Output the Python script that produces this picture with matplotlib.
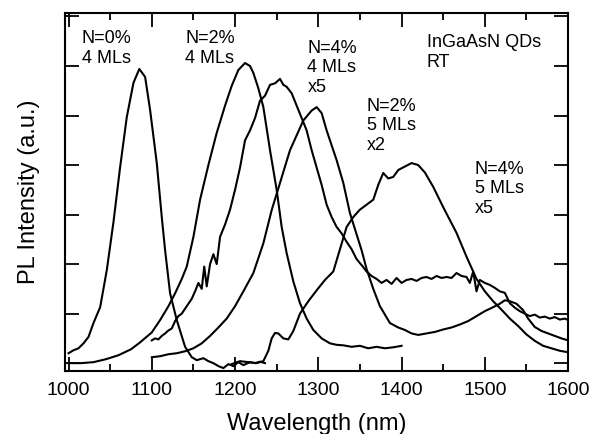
import matplotlib
matplotlib.use("Agg")
import matplotlib.pyplot as plt
from matplotlib.ticker import MultipleLocator

plt.rcParams["font.family"] = ["Liberation Sans", "DejaVu Sans"]

# N=0%, 4 MLs
a_wl = [1000, 1006, 1012, 1018, 1024, 1030, 1038, 1046, 1054, 1062, 1070, 1078, 1085,
        1092, 1098, 1106, 1112, 1116, 1122, 1130, 1140, 1148, 1154, 1162, 1168, 1174,
        1180, 1186, 1192, 1198, 1204, 1210, 1218, 1224, 1230, 1236]
a_int = [0.2, 0.26, 0.3, 0.4, 0.53, 0.81, 1.13, 1.88, 2.85, 3.96, 4.97, 5.66, 5.94,
         5.78, 5.11, 4.04, 2.95, 2.28, 1.41, 0.87, 0.33, 0.12, 0.06, 0.1, 0.04, 0.0,
         -0.06, -0.1, -0.02, -0.06, 0.02, -0.04, 0.02, 0.0, 0.03, 0.0]

# N=2%, 4 MLs
b_wl = [1000, 1015, 1030, 1045, 1060, 1075, 1086, 1100, 1110, 1120, 1128, 1136, 1142,
        1150, 1158, 1168, 1178, 1188, 1196, 1204, 1212, 1218, 1222, 1228, 1234, 1242,
        1250, 1256, 1262, 1270, 1278, 1286, 1294, 1304, 1314, 1322, 1330, 1340, 1350,
        1360, 1370, 1380, 1390, 1400]
b_int = [0.0, 0.0, 0.02, 0.08, 0.16, 0.28, 0.42, 0.62, 0.87, 1.15, 1.41, 1.7, 1.95,
         2.55, 3.3, 4.0, 4.65, 5.2, 5.6, 5.92, 6.06, 6.0, 5.86, 5.55, 5.17, 4.3,
         3.5, 2.75, 2.22, 1.65, 1.21, 0.9, 0.67, 0.5, 0.4, 0.37, 0.36, 0.33, 0.35,
         0.3, 0.33, 0.3, 0.32, 0.35]

# N=4%, 4 MLs, x5 (noisy)
c_wl = [1100, 1104, 1108, 1112, 1116, 1120, 1124, 1128, 1132, 1136, 1140, 1144, 1148,
        1152, 1156, 1160, 1163, 1166, 1170, 1174, 1178, 1182, 1188, 1194, 1200, 1206,
        1212, 1218, 1224, 1230, 1236, 1242, 1248, 1254, 1258, 1262, 1268, 1274, 1280,
        1286, 1292, 1298, 1304, 1310, 1316, 1322, 1328, 1334, 1340, 1346, 1352, 1358,
        1364, 1370, 1376, 1382, 1388, 1394, 1400, 1406, 1412, 1418, 1424, 1430, 1436,
        1442, 1448, 1454, 1460, 1466, 1472, 1478, 1482, 1486, 1490, 1494, 1500, 1506,
        1512, 1518, 1524, 1530, 1536, 1542, 1548, 1554, 1560, 1566, 1572, 1578, 1584,
        1590, 1596, 1600]
c_int = [0.46, 0.5, 0.48, 0.55, 0.6, 0.66, 0.7, 0.85, 0.95, 1.0, 1.1, 1.2, 1.3,
         1.45, 1.62, 1.5, 1.95, 1.55, 2.0, 2.2, 2.0, 2.55, 2.8, 3.1, 3.5, 3.95,
         4.5, 4.7, 4.95, 5.3, 5.4, 5.62, 5.65, 5.74, 5.62, 5.58, 5.45, 5.2, 4.95,
         4.7, 4.3, 3.95, 3.6, 3.2, 2.95, 2.75, 2.62, 2.45, 2.3, 2.1, 1.98, 1.85,
         1.76, 1.7, 1.62, 1.68, 1.6, 1.72, 1.62, 1.68, 1.7, 1.66, 1.72, 1.74, 1.7,
         1.76, 1.72, 1.74, 1.72, 1.82, 1.76, 1.74, 1.62, 1.85, 1.45, 1.68, 1.62, 1.58,
         1.52, 1.45, 1.42, 1.21, 1.12, 1.05, 1.0, 0.95, 0.98, 0.92, 0.94, 0.9, 0.93,
         0.88, 0.9, 0.87]

# N=4%, 5 MLs, x5
d_wl = [1100, 1110, 1120, 1130, 1140, 1150, 1160, 1170, 1180, 1190, 1200, 1210, 1222,
        1234, 1244, 1254, 1266, 1282, 1292, 1298, 1304, 1310, 1322, 1330, 1338, 1346,
        1352, 1358, 1366, 1374, 1386, 1396, 1404, 1412, 1420, 1430, 1440, 1450, 1460,
        1470, 1480, 1490, 1500, 1510, 1518, 1524, 1530, 1538, 1546, 1552, 1560, 1568,
        1576, 1584, 1592, 1600]
d_int = [0.12, 0.14, 0.18, 0.2, 0.24, 0.3, 0.4, 0.55, 0.72, 0.9, 1.15, 1.45, 1.82,
         2.42, 3.09, 3.64, 4.3, 4.9, 5.1, 5.17, 5.05, 4.7, 4.1, 3.64, 3.03, 2.6,
         2.28, 1.9, 1.5, 1.15, 0.81, 0.72, 0.67, 0.6, 0.57, 0.6, 0.63, 0.68, 0.72,
         0.78, 0.85, 0.95, 1.05, 1.13, 1.2, 1.27, 1.25, 1.2, 1.07, 0.9, 0.73, 0.65,
         0.6, 0.55, 0.5, 0.46]

# N=2%, 5 MLs, x2
e_wl = [1196, 1206, 1216, 1226, 1234, 1240, 1244, 1248, 1252, 1258, 1264, 1270, 1278,
        1288, 1298, 1308, 1318, 1326, 1334, 1342, 1350, 1358, 1366, 1372, 1378, 1384,
        1390, 1396, 1404, 1412, 1420, 1428, 1438, 1450, 1466, 1478, 1490, 1500, 1510,
        1520, 1530, 1540, 1550, 1560, 1570, 1580, 1590, 1600]
e_int = [-0.02, 0.04, 0.02, 0.0, 0.04, 0.25, 0.5, 0.61, 0.6, 0.5, 0.48, 0.65, 1.0,
         1.25, 1.47, 1.68, 1.85, 2.3, 2.75, 2.95, 3.1, 3.2, 3.3, 3.6, 3.84, 3.73,
         3.76, 3.9, 3.97, 4.04, 4.0, 3.85, 3.56, 3.15, 2.63, 2.15, 1.7, 1.45, 1.25,
         1.08, 0.9, 0.75, 0.58, 0.45, 0.35, 0.3, 0.25, 0.22]

fig, ax = plt.subplots(figsize=(5.98, 4.34), dpi=100)
fig.subplots_adjust(left=0.109, right=0.95, bottom=0.145, top=0.97)

for wl, inten in [(a_wl, a_int), (b_wl, b_int), (c_wl, c_int), (d_wl, d_int), (e_wl, e_int)]:
    ax.plot(wl, inten, color="black", lw=1.5)

ax.set_xlim(996, 1600)
ax.set_ylim(-0.16, 7.07)
ax.set_xticks(range(1000, 1601, 100))
ax.xaxis.set_minor_locator(MultipleLocator(50))
ax.set_yticks(range(8))
ax.tick_params(which="both", direction="in", top=True, right=True, width=1.3)
ax.tick_params(which="major", length=10)
ax.tick_params(which="minor", length=5)
ax.tick_params(axis="x", labelsize=14, pad=8)
ax.tick_params(axis="y", labelleft=False)
for s in ax.spines.values():
    s.set_linewidth(1.5)

ax.set_xlabel("Wavelength (nm)", fontsize=17, labelpad=10)
ax.set_ylabel("PL Intensity (a.u.)", fontsize=17, labelpad=18)

fs = 13
ax.text(1016, 6.72, "N=0%\n4 MLs", fontsize=fs, va="top", linespacing=1.2)
ax.text(1140, 6.72, "N=2%\n4 MLs", fontsize=fs, va="top", linespacing=1.2)
ax.text(1287, 6.53, "N=4%\n4 MLs\nx5", fontsize=fs, va="top", linespacing=1.2)
ax.text(1430, 6.64, "InGaAsN QDs\nRT", fontsize=fs, va="top", linespacing=1.2)
ax.text(1358, 5.36, "N=2%\n5 MLs\nx2", fontsize=fs, va="top", linespacing=1.2)
ax.text(1488, 4.09, "N=4%\n5 MLs\nx5", fontsize=fs, va="top", linespacing=1.2)

plt.savefig("out.png", dpi=100)
